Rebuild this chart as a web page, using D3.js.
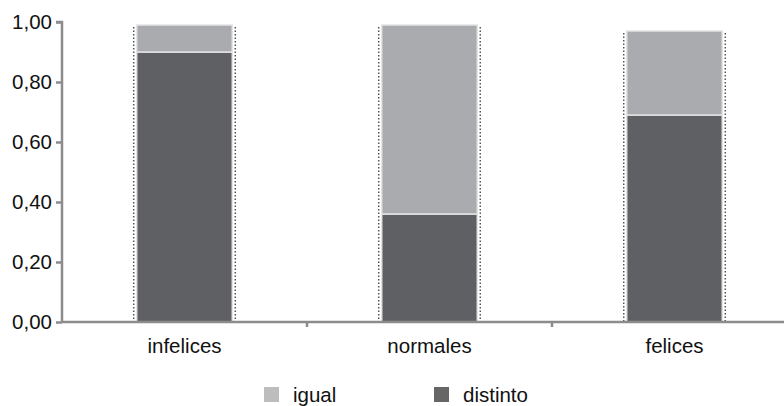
<!DOCTYPE html>
<html><head><meta charset="utf-8">
<script src="https://cdn.jsdelivr.net/npm/d3@7"></script>
<style>body{margin:0;background:#fff}svg{display:block}text{font-family:"Liberation Sans",Arial,sans-serif;fill:#111}</style>
</head><body><svg id="c" width="784" height="406"></svg>
<script>
const categories = ["infelices", "normales", "felices"];
const distinto = [0.90, 0.36, 0.69];
const igual = [0.09, 0.63, 0.28];
const yTicks = [0, 0.2, 0.4, 0.6, 0.8, 1.0];
const seriesNames = ["igual", "distinto"];

const svg = d3.select("#c");
const W = 784, H = 406;
const FS = 20.5;
const x0 = 62, x1 = 797, yTop = 22, yBot = 322;
const x = d3.scaleBand().domain(categories).range([x0, x1]).paddingInner(0.61).paddingOuter(0.305);
const y = d3.scaleLinear().domain([0, 1]).range([yBot, yTop]);
const colDark = "#5f6064", colLight = "#a9abae", axisCol = "#8c8c8c";

const rows = categories.map((c, i) => ({cat: c, distinto: distinto[i], igual: igual[i]}));
const stack = d3.stack().keys(["distinto", "igual"])(rows);

const g = svg.append("g");
stack.forEach(layer => {
  g.selectAll(null).data(layer).enter().append("rect")
    .attr("x", d => x(d.data.cat))
    .attr("width", x.bandwidth())
    .attr("y", d => y(d[1]))
    .attr("height", d => y(d[0]) - y(d[1]))
    .attr("fill", layer.key === "distinto" ? colDark : colLight)
    .attr("stroke", "#e4e4e4").attr("stroke-width", 1.5);
});
rows.forEach(r => {
  const tot = r.distinto + r.igual;
  [x(r.cat) - 3, x(r.cat) + x.bandwidth() + 3].forEach(xx => {
    g.append("line").attr("x1", xx).attr("x2", xx)
      .attr("y1", y(tot) + 2).attr("y2", y(0))
      .attr("stroke", "#555").attr("stroke-width", 1.5).attr("stroke-dasharray", "1.5,2");
  });
});

const ya = svg.append("g").attr("transform", `translate(${x0},0)`)
  .call(d3.axisLeft(y).tickValues(yTicks).tickSize(6).tickPadding(4)
    .tickFormat(d => d3.format(".2f")(d).replace(".", ",")));
ya.select(".domain").attr("stroke", axisCol).attr("stroke-width", 2.5).attr("d", `M-6,${yTop}H0V${yBot}`);
ya.selectAll(".tick line").attr("stroke", axisCol).attr("stroke-width", 2.5);
ya.selectAll(".tick text").attr("font-size", FS).attr("fill", "#111").style("font-family", "Liberation Sans, Arial, sans-serif");

const xa = svg.append("g").attr("transform", `translate(0,${yBot})`)
  .call(d3.axisBottom(x).tickSize(0).tickPadding(16));
xa.select(".domain").attr("stroke", axisCol).attr("stroke-width", 2.5).attr("d", `M${x0},0H${W}`);
xa.selectAll(".tick text").attr("font-size", FS).attr("fill", "#111").style("font-family", "Liberation Sans, Arial, sans-serif");
const step = x.step();
[1, 2].forEach(i => {
  const bx = x0 + step * i;
  xa.append("line").attr("x1", bx).attr("x2", bx).attr("y1", 0).attr("y2", 5)
    .attr("stroke", axisCol).attr("stroke-width", 2.5);
});

const legend = [{name: seriesNames[0], col: "#bdbdbd", x: 264}, {name: seriesNames[1], col: "#666666", x: 434}];
legend.forEach(l => {
  svg.append("rect").attr("x", l.x).attr("y", 387).attr("width", 15).attr("height", 15).attr("fill", l.col);
  svg.append("text").attr("x", l.x + 29).attr("y", 402).attr("font-size", FS).text(l.name);
});
</script></body></html>
